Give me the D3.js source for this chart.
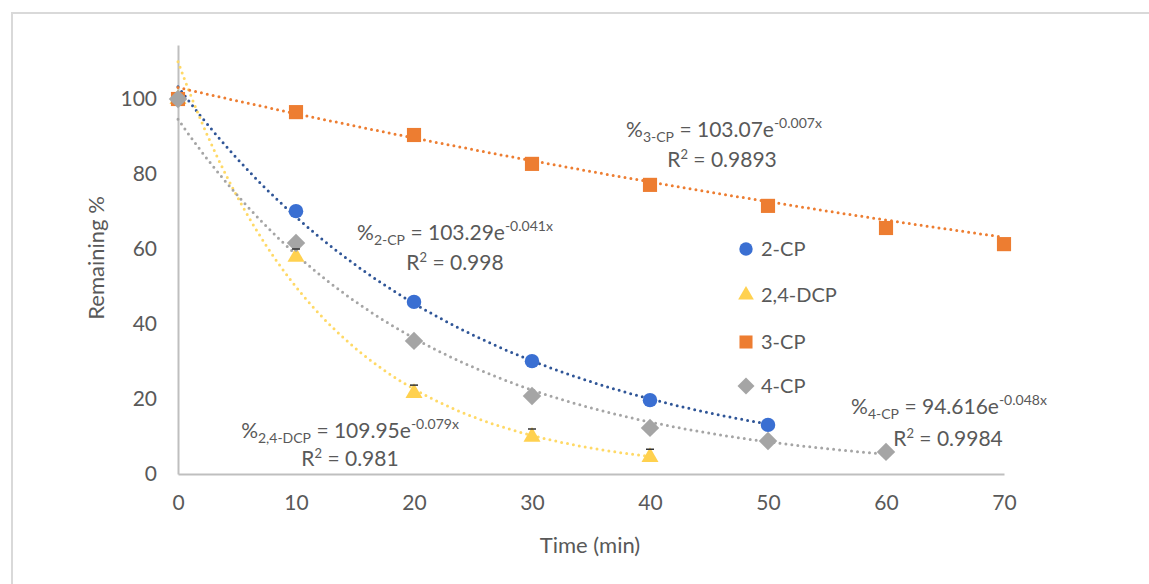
<!DOCTYPE html>
<html>
<head>
<meta charset="utf-8">
<script src="https://cdn.jsdelivr.net/npm/d3@7"></script>
<style>
  body { margin: 0; background: #fff; }
  svg { display: block; font-family: Lato, "Open Sans", sans-serif; }
</style>
</head>
<body>
<svg id="chart" width="1149" height="584"></svg>
<script>
// sampling times (min)
const time = [0, 10, 20, 30, 40, 50, 60, 70];

// remaining % per compound
const cp2 = [100, 70.1, 45.9, 30.1, 19.7, 13.1];
const dcp24 = [100, 57.9, 21.6, 9.9, 4.5];
const dcp24Err = [1.3, 1.3, 1.3, 1.3, 1.3];
const cp3 = [100, 96.5, 90.4, 82.7, 77.1, 71.5, 65.6, 61.3];
const cp4 = [100, 61.6, 35.5, 20.8, 12.3, 8.8, 5.9];

// exponential trendline fits  a * e^(b x)
const fitA = [103.29, 109.95, 103.07, 94.616];
const fitB = [-0.041, -0.079, -0.007, -0.048];
const fitR2 = ['0.998', '0.981', '0.9893', '0.9984'];

const names = ['2-CP', '2,4-DCP', '3-CP', '4-CP'];
const xTicks = [0, 10, 20, 30, 40, 50, 60, 70];
const yTicks = [0, 20, 40, 60, 80, 100];

const diamond = { draw(ctx, size) { const r = Math.sqrt(size / 2); ctx.moveTo(0, -r); ctx.lineTo(r, 0); ctx.lineTo(0, r); ctx.lineTo(-r, 0); ctx.closePath(); } };

const series = [
  { name: names[0], vals: cp2, color: '#3a6fd2', trend: '#2f5597', shape: d3.symbolCircle, size: 165 },
  { name: names[1], vals: dcp24, color: '#ffd14f', trend: '#ffd966', shape: d3.symbolTriangle, size: 125, err: dcp24Err },
  { name: names[2], vals: cp3, color: '#ed7d31', trend: '#ed7d31', shape: d3.symbolSquare, size: 200 },
  { name: names[3], vals: cp4, color: '#a5a5a5', trend: '#a5a5a5', shape: diamond, size: 170 }
];
series.forEach((s, i) => { s.a = fitA[i]; s.b = fitB[i]; s.r2 = fitR2[i]; });

const svg = d3.select('#chart');
const x = d3.scaleLinear().domain([0, 70]).range([178, 1004]);
const y = d3.scaleLinear().domain([0, 114.4]).range([474, 45]);
const txt = '#595959';

// outer frame
svg.append('path')
  .attr('d', 'M12,584 V13 H1149')
  .attr('fill', 'none').attr('stroke', '#d9d9d9').attr('stroke-width', 2);

// axes
const xAxis = svg.append('g').attr('transform', `translate(0,${y(0)})`)
  .call(d3.axisBottom(x).tickValues(xTicks).tickSize(0).tickPadding(21));
const yAxis = svg.append('g').attr('transform', `translate(${x(0)},0)`)
  .call(d3.axisLeft(y).tickValues(yTicks).tickSize(0).tickPadding(21));
[xAxis, yAxis].forEach(g => {
  g.select('.domain').attr('stroke', '#bfbfbf').attr('stroke-width', 2);
  g.selectAll('text').attr('fill', txt).attr('font-size', 21).attr('font-family', 'Lato, sans-serif');
});

svg.append('text').attr('x', 590).attr('y', 553).attr('text-anchor', 'middle')
  .attr('fill', txt).attr('font-size', 22).text('Time (min)');
svg.append('text').attr('transform', 'translate(104,258) rotate(-90)').attr('text-anchor', 'middle')
  .attr('fill', txt).attr('font-size', 22).text('Remaining %');

// trendlines
const line = d3.line().x(d => x(d[0])).y(d => y(d[1]));
series.forEach(s => {
  const xmax = time[s.vals.length - 1];
  const pts = d3.range(0, xmax + 0.001, 0.5).map(t => [t, s.a * Math.exp(s.b * t)]);
  svg.append('path').attr('d', line(pts))
    .attr('fill', 'none').attr('stroke', s.trend).attr('stroke-width', 3)
    .attr('stroke-linecap', 'round').attr('stroke-dasharray', '0 6');
});

// markers
series.forEach(s => {
  svg.append('g').selectAll('path').data(s.vals).join('path')
    .attr('transform', (d, i) => `translate(${x(time[i])},${y(d)})`)
    .attr('d', d3.symbol().type(s.shape).size(s.size))
    .attr('fill', s.color);
});

// error bar caps (2,4-DCP), peeking above the triangles
series.filter(s => s.err).forEach(s => {
  s.vals.forEach((v, i) => {
    if (i === 0) return;
    const e = s.err[i], cx = x(time[i]);
    svg.append('path')
      .attr('d', `M${cx - 4},${y(v + e) - 3}H${cx + 4}`)
      .attr('stroke', '#333').attr('stroke-width', 1.5).attr('fill', 'none');
  });
});

// legend
const legY = [249, 295, 342, 386];
series.forEach((s, i) => {
  svg.append('path').attr('transform', `translate(746,${legY[i]})`)
    .attr('d', d3.symbol().type(s.shape).size(s.size * 0.85)).attr('fill', s.color);
  svg.append('text').attr('x', 761).attr('y', legY[i] + 7).attr('fill', txt)
    .attr('font-size', 20).text(s.name);
});

// equation labels
const eqPos = [[455, 240], [350, 438], [724, 137], [949, 414]];
const r2Pos = [[455, 270], [350, 466], [722, 167], [948, 446]];
series.forEach((s, i) => {
  const t = svg.append('text').attr('x', eqPos[i][0]).attr('y', eqPos[i][1])
    .attr('text-anchor', 'middle').attr('fill', txt).attr('font-size', 21);
  t.append('tspan').text('%');
  t.append('tspan').attr('font-size', 14).attr('dy', 5).text(s.name);
  t.append('tspan').attr('dy', -5).text(' = ' + s.a + 'e');
  t.append('tspan').attr('font-size', 14).attr('dy', -9).text(s.b.toFixed(3) + 'x');
  const r = svg.append('text').attr('x', r2Pos[i][0]).attr('y', r2Pos[i][1])
    .attr('text-anchor', 'middle').attr('fill', txt).attr('font-size', 21);
  r.append('tspan').text('R');
  r.append('tspan').attr('font-size', 13).attr('dy', -8).text('2');
  r.append('tspan').attr('dy', 8).text(' = ' + s.r2);
});
</script>
</body>
</html>
